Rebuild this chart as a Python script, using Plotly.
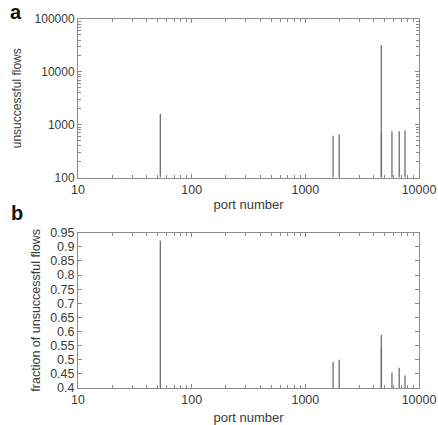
import plotly.graph_objects as go
from plotly.subplots import make_subplots

ports = [53, 1755, 1985, 4662, 4672, 5780, 6700, 7530]
unsuccessful_flows = [1600, 620, 650, 31700, 680, 750, 750, 775]
fraction_unsuccessful = [0.922, 0.493, 0.50, 0.588, 0.542, 0.455, 0.472, 0.444]
b_ticks = [0.4, 0.45, 0.5, 0.55, 0.6, 0.65, 0.7, 0.75, 0.8, 0.85, 0.9, 0.95]
b_ticktext = ["0.4", "0.45", "0.5", "0.55", "0.6", "0.65", "0.7", "0.75", "0.8", "0.85", "0.9", "0.95"]
a_ticks = [100, 1000, 10000, 100000]
x_ticks = [10, 100, 1000, 10000]

a_base = 100
b_base = 0.4

def stems(xs, ys, base):
    sx, sy = [], []
    for x, y in zip(xs, ys):
        sx += [x, x, None]
        sy += [base, y, None]
    return sx, sy

fig = make_subplots(rows=2, cols=1, vertical_spacing=0.0)

ax, ay = stems(ports, unsuccessful_flows, a_base)
bx, by = stems(ports, fraction_unsuccessful, b_base)
stem_color = "#6e6e6e"
fig.add_trace(go.Scatter(x=ax, y=ay, mode="lines", line=dict(color=stem_color, width=1.3),
                         showlegend=False, hoverinfo="skip"), row=1, col=1)
fig.add_trace(go.Scatter(x=bx, y=by, mode="lines", line=dict(color=stem_color, width=1.3),
                         showlegend=False, hoverinfo="skip"), row=2, col=1)

axis_color = "#8a8a8a"
font_color = "#3a3a3a"
def x_axis(standoff):
    return dict(type="log", range=[1, 4], showgrid=False, zeroline=False, automargin=False,
                showline=True, linecolor=axis_color, linewidth=1, mirror="ticks",
                ticks="inside", ticklen=4, tickwidth=1, tickcolor=axis_color,
                tickvals=x_ticks, ticktext=[str(v) for v in x_ticks],
                minor=dict(ticks="inside", ticklen=3, tickwidth=1, tickcolor=axis_color,
                           tickvals=[v * m for v in [10, 100, 1000] for m in range(2, 10)]),
                tickfont=dict(size=12.5, color=font_color),
                title=dict(text="port number", font=dict(size=13, color=font_color), standoff=standoff))

fig.update_xaxes(**x_axis(4), row=1, col=1)
fig.update_xaxes(**x_axis(9), row=2, col=1)

fig.update_yaxes(type="log", range=[2, 5], showgrid=False, zeroline=False, automargin=False,
                 showline=True, linecolor=axis_color, linewidth=1, mirror="ticks",
                 ticks="inside", ticklen=4, tickwidth=1, tickcolor=axis_color,
                 tickvals=a_ticks, ticktext=[str(v) for v in a_ticks],
                 minor=dict(ticks="inside", ticklen=3, tickwidth=1, tickcolor=axis_color,
                            tickvals=[v * m for v in [100, 1000, 10000] for m in range(2, 10)]),
                 tickfont=dict(size=12, color=font_color),
                 title=dict(text="unsuccessful flows", font=dict(size=12, color=font_color), standoff=10),
                 row=1, col=1)
fig.update_yaxes(range=[0.4, 0.95], showgrid=False, zeroline=False, automargin=False,
                 showline=True, linecolor=axis_color, linewidth=1, mirror="ticks",
                 ticks="inside", ticklen=4, tickwidth=1, tickcolor=axis_color,
                 tickvals=b_ticks, ticktext=b_ticktext,
                 tickfont=dict(size=12.5, color=font_color),
                 title=dict(text="fraction of unsuccessful flows", font=dict(size=12.5, color=font_color), standoff=6),
                 row=2, col=1)

L, R, T, B = 78, 19, 19, 37
W, H = 438, 425
plot_h = H - T - B
plot_w = W - L - R
def py_to_paper(py):
    return (H - B - py) / plot_h
def px_to_paper(px):
    return (px - L) / plot_w

fig.update_layout(
    width=W, height=H,
    margin=dict(l=L, r=R, t=T, b=B),
    paper_bgcolor="white", plot_bgcolor="white",
    font=dict(family="Liberation Sans, Arial, sans-serif", color=font_color),
    yaxis=dict(domain=[py_to_paper(177.5), 1.0]),
    yaxis2=dict(domain=[0.0, py_to_paper(232.7)]),
    annotations=[
        dict(text="<b>a</b>", x=px_to_paper(16), y=py_to_paper(12), xref="paper", yref="paper",
             showarrow=False, font=dict(size=20, color="#111"), xanchor="center", yanchor="middle"),
        dict(text="<b>b</b>", x=px_to_paper(17), y=py_to_paper(213), xref="paper", yref="paper",
             showarrow=False, font=dict(size=20, color="#111"), xanchor="center", yanchor="middle"),
    ],
)

fig.write_html("out.html", config={"displayModeBar": False})

# remove the browser's default page margin so the figure sits at the window's corner
with open("out.html", "r", encoding="utf-8") as f:
    html = f.read()
html = html.replace("<head>", "<head><style>html,body{margin:0;padding:0;overflow:hidden;}</style>", 1)
with open("out.html", "w", encoding="utf-8") as f:
    f.write(html)
